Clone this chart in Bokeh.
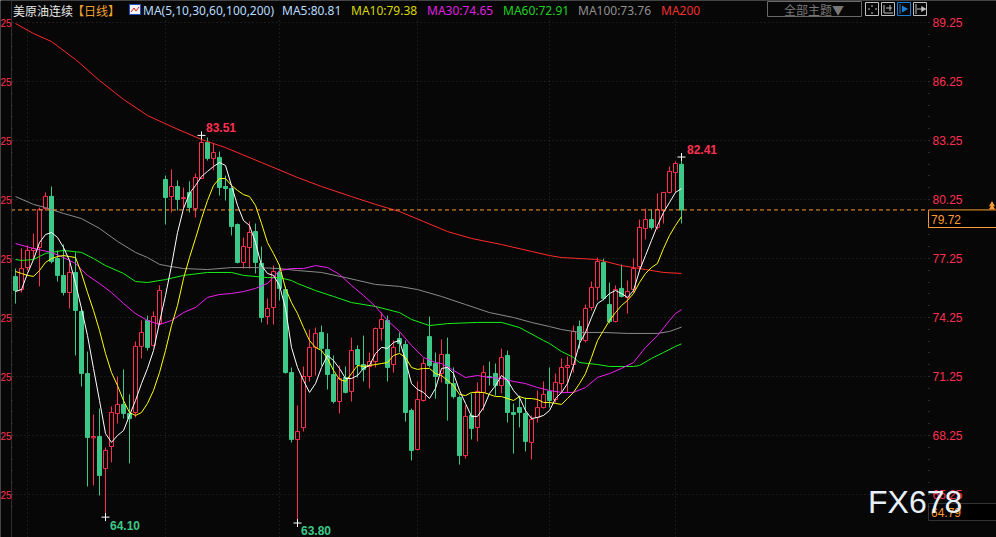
from bokeh.plotting import figure
from bokeh.models import Range1d, LinearAxis, FixedTicker, Label, Grid, PrintfTickFormatter
from bokeh.embed import file_html
from bokeh.resources import INLINE

# ---------- data (prices) ----------
opens = [76.33,75.67,76.79,77.66,77.81,79.79,80.41,77.25,76.39,75.52,
 76.54,74.56,71.40,68.13,68.20,66.57,67.69,69.37,69.83,69.37,
 69.42,72.78,74.10,72.83,73.95,81.27,80.40,80.91,80.30,80.61,
 79.79,81.32,83.15,82.34,82.39,80.91,80.81,78.98,77.05,77.81,
 78.62,77.00,74.30,74.76,76.54,75.67,71.45,68.05,68.65,71.25,
 72.73,73.49,72.62,71.35,69.98,71.20,70.49,72.62,71.86,71.76,
 72.01,73.69,74.10,71.86,73.18,72.88,69.52,67.54,70.03,73.28,
 71.91,71.40,72.37,70.89,70.18,67.23,69.27,68.66,70.44,71.25,
 71.40,70.79,72.32,69.42,69.67,69.37,67.90,69.17,69.67,70.49,
 70.08,70.89,71.71,71.86,73.79,73.08,74.76,75.78,77.05,74.91,
 74.05,75.73,75.27,75.67,76.84,78.78,79.23,78.83,79.69,80.61,
 81.62,82.04]
closes = [75.62,76.74,77.66,77.76,79.74,80.41,77.10,76.39,75.52,76.54,
 74.61,71.40,68.15,68.20,66.22,67.49,69.42,69.83,69.37,69.11,
 72.78,73.49,72.73,74.30,75.62,80.35,80.91,80.25,80.35,79.84,
 81.37,83.15,82.34,82.64,80.86,80.81,78.88,77.05,77.86,78.57,
 77.05,74.25,74.71,76.59,75.73,71.45,68.05,68.45,71.25,72.73,
 73.44,72.68,71.35,69.98,71.15,70.44,72.57,71.86,71.61,72.01,
 73.69,74.15,71.71,72.73,72.93,69.42,67.49,70.08,71.91,71.81,
 71.25,72.37,70.89,70.23,67.23,69.22,68.61,70.49,71.45,71.20,
 70.79,72.22,69.42,69.32,69.42,67.95,69.06,69.67,70.34,70.03,
 70.95,71.71,71.81,73.54,73.13,74.71,75.78,77.10,75.22,74.05,
 75.67,75.32,75.57,76.74,78.83,79.23,78.83,79.74,80.61,81.68,
 82.08,79.72]
highs = [76.74,77.76,77.91,78.52,79.84,80.61,80.91,77.66,77.96,77.05,
 77.56,74.76,72.52,69.32,69.62,67.64,69.73,71.25,71.61,70.34,
 73.03,74.10,74.35,74.56,75.88,81.47,81.78,81.22,80.86,81.17,
 81.57,83.51,83.40,83.10,82.69,81.47,80.86,79.03,78.32,79.13,
 79.03,77.86,75.22,76.89,76.94,75.83,71.71,69.78,71.76,73.64,
 73.74,73.84,73.44,72.32,71.81,71.76,73.23,72.83,73.33,72.47,
 73.74,74.51,74.35,73.08,73.49,73.08,69.62,71.00,72.17,74.30,
 72.47,73.13,73.23,71.71,70.28,69.78,70.39,70.95,71.81,72.01,
 71.91,72.67,72.57,69.88,70.28,70.18,69.27,70.54,71.00,71.71,
 71.40,72.17,72.27,73.84,74.10,74.91,76.08,77.30,77.25,76.03,
 75.88,76.94,76.13,77.25,79.23,79.79,79.74,80.56,80.61,81.93,
 82.18,82.41]
lows = [74.96,75.52,76.64,77.25,75.83,79.69,77.00,76.08,75.37,74.71,
 72.32,70.74,65.66,65.71,65.20,64.10,66.88,68.86,69.11,66.83,
 69.17,72.17,72.57,72.78,73.84,78.98,79.59,79.69,79.79,79.59,
 79.33,81.32,82.23,81.73,80.45,80.20,78.42,77.00,76.74,76.74,
 76.49,74.00,73.89,73.89,75.12,71.40,67.90,63.80,68.45,71.00,
 71.30,71.81,70.59,69.88,69.37,70.39,69.98,71.20,71.00,70.64,
 71.71,73.08,71.00,71.45,72.47,68.96,66.98,67.49,69.98,71.71,
 70.13,70.95,69.01,70.13,66.77,67.08,68.05,67.95,69.52,70.79,
 70.28,70.39,68.91,67.33,68.66,67.44,67.03,68.91,69.62,69.67,
 69.93,70.39,70.44,71.45,72.67,72.98,74.61,75.12,75.12,73.95,
 74.00,75.27,74.45,75.52,76.59,78.22,78.72,78.72,79.03,80.56,
 80.61,79.03]

ma5 = [75.57,75.67,76.49,77.20,78.06,78.47,78.57,78.32,77.81,77.15,
 75.98,74.71,73.33,71.66,70.03,68.35,67.90,68.25,68.50,69.27,
 70.03,70.89,71.66,72.57,74.00,75.37,76.89,78.57,79.79,80.56,
 80.96,81.42,81.68,81.93,82.13,81.98,80.96,79.95,79.18,78.93,
 78.06,76.89,76.49,76.39,75.88,74.71,72.73,71.71,71.05,70.44,
 70.89,71.71,72.32,72.06,71.66,71.15,71.15,71.30,71.66,71.81,
 72.42,72.73,72.68,72.98,73.08,72.06,70.89,70.59,70.44,70.13,
 70.64,71.66,71.71,71.40,70.54,69.88,69.22,69.22,69.67,70.39,
 70.79,71.30,71.05,70.54,70.18,69.52,69.11,69.17,69.27,69.52,
 70.13,70.44,70.89,71.81,72.93,73.49,74.25,74.96,75.17,75.47,
 75.62,75.47,75.27,75.62,76.64,77.40,78.17,78.93,79.59,80.10,
 80.61,80.81]
ma10 = [76.59,76.49,76.39,76.34,76.64,77.05,77.25,77.35,77.40,77.35,
 77.30,76.49,75.52,74.61,73.59,72.42,71.45,70.79,70.03,69.42,
 69.27,69.42,69.88,70.54,71.45,72.57,73.84,74.86,76.23,77.30,
 78.27,79.28,80.20,80.96,81.32,81.32,80.96,80.71,80.50,80.40,
 79.95,79.03,78.06,77.50,76.89,75.73,75.01,74.45,73.74,73.08,
 72.73,72.57,72.17,71.56,71.10,71.00,71.40,71.81,71.76,71.81,
 71.86,71.91,71.96,72.32,72.42,72.22,71.71,71.61,71.66,71.66,
 71.40,71.30,71.05,70.79,70.34,70.28,70.44,70.44,70.44,70.34,
 70.23,70.23,70.13,70.03,70.23,70.13,70.13,70.08,69.93,69.93,
 69.88,69.83,70.13,70.44,70.89,71.40,72.22,73.08,73.59,74.10,
 74.50,74.86,75.12,75.47,76.03,76.49,76.79,77.00,77.76,78.42,
 78.93,79.38]
ma30_idx = [0,3,6,8,10,12,14,16,18,20,22,24,26,28,30,32,34,36,38,40,42,44,46,48,50,52,54,56,58,60,62,64,66,68,70,71,73,75,77,79,81,83,85,87,89,91,93,95,97,99,101,103,105,107,109,110,111]
ma30 = [78.01,77.76,77.56,77.30,77.00,76.39,75.98,75.52,74.96,74.45,74.10,73.89,74.10,74.50,74.76,75.27,75.42,75.47,75.57,75.73,75.98,76.64,76.74,76.74,76.89,76.79,76.44,75.88,75.37,74.81,74.10,73.54,72.83,72.22,71.96,71.91,71.56,71.20,71.30,71.20,71.15,71.00,70.89,70.69,70.54,70.44,70.44,70.69,71.20,71.40,71.66,71.96,72.73,73.33,74.10,74.45,74.65]
ma60_idx = [0,1,3,5,8,11,13,15,18,20,22,25,28,32,36,38,42,44,46,47,50,53,56,60,64,66,69,72,77,81,84,88,89,91,93,94,97,99,103,104,106,108,110,111]
ma60 = [77.20,77.15,77.20,77.51,77.66,77.56,77.25,76.89,76.49,76.08,76.03,76.18,76.39,76.54,76.54,76.39,76.28,76.28,76.13,75.98,75.62,75.32,75.01,74.81,74.50,74.15,73.84,73.94,74.00,74.00,73.74,73.08,72.93,72.52,72.22,71.96,71.86,71.76,71.76,71.81,72.17,72.47,72.78,72.91]
ma100_idx = [0,3,5,8,11,14,17,20,22,24,25,28,32,36,40,44,47,51,55,60,64,67,71,75,79,83,86,89,91,94,98,102,107,109,111]
ma100 = [80.40,80.00,79.84,79.54,79.28,78.78,78.12,77.56,77.30,76.95,76.89,76.74,76.69,76.79,76.79,76.74,76.64,76.54,76.28,75.93,75.83,75.67,75.32,74.91,74.50,74.25,74.00,73.79,73.64,73.49,73.49,73.44,73.44,73.54,73.76]
ma200_idx = [0,3,6,10,14,18,22,26,31,35,41,47,51,56,60,64,68,72,76,81,86,89,91,97,101,105,108,111]
ma200 = [89.20,88.69,88.28,87.37,86.30,85.34,84.52,83.96,83.30,82.89,82.13,81.37,80.91,80.40,80.00,79.64,79.13,78.62,78.27,77.96,77.61,77.40,77.30,77.20,76.89,76.69,76.54,76.49]

price_ticks = [89.25,86.25,83.25,80.25,77.25,74.25,71.25,68.25,65.25]
minor_ticks = [89.25-0.6*i for i in range(42)]
month_starts = [2,25,44,67,89,110]
extreme_idx = [31,15,47,111]
extreme_val = [83.51,64.10,63.80,82.41]
last_price = 79.72
low_price_box = "64.79"

BG = "#070707"; RED = "#ff3050"; GREEN = "#3cc888"; ORANGE = "#ff9c30"
W, H = 996, 537
X0, X1 = -15.0/6, (W-15.0)/6
Y0, Y1 = 89.25-515/19.667, 89.25+22/19.667
def px(x): return X0 + (x-0.5)/W*(X1-X0)
def py(y): return Y1 - (y-0.5)/H*(Y1-Y0)

p = figure(width=W, height=H, output_backend="svg", toolbar_location=None,
           x_range=Range1d(X0, X1), y_range=Range1d(Y0, Y1),
           background_fill_color=BG, border_fill_color=BG, outline_line_color=None,
           min_border=0, min_border_left=0, min_border_right=0, min_border_top=0, min_border_bottom=0,
           x_axis_type=None, y_axis_type=None)
p.grid.visible = False

# grids
gy = Grid(dimension=1, ticker=FixedTicker(ticks=price_ticks), grid_line_color="#303030", grid_line_dash="1 3", grid_line_width=1)
gx = Grid(dimension=0, ticker=FixedTicker(ticks=month_starts), grid_line_color="#303030", grid_line_dash="1 3", grid_line_width=1)
p.add_layout(gy); p.add_layout(gx)
p.quad(left=[px(928), px(-5), px(-5)], right=[px(1000), px(11), px(1000)],
       top=[py(17), py(17), py(-5)], bottom=[py(540), py(540), py(17)],
       fill_color=BG, line_color=None)

# candles
idx = list(range(len(opens)))
up = [i for i in idx if closes[i] >= opens[i]]
dn = [i for i in idx if closes[i] < opens[i]]
p.segment([i for i in up], [highs[i] for i in up], [i for i in up], [lows[i] for i in up], line_color=RED, line_width=1)
p.segment([i for i in dn], [highs[i] for i in dn], [i for i in dn], [lows[i] for i in dn], line_color=GREEN, line_width=1)
p.vbar(x=up, width=4/6, top=[closes[i] for i in up], bottom=[opens[i] for i in up], fill_color=BG, line_color=RED, line_width=1)
p.vbar(x=dn, width=4/6, top=[opens[i] for i in dn], bottom=[closes[i] for i in dn], fill_color=GREEN, line_color=GREEN, line_width=1)

# moving averages
p.line(ma200_idx, ma200, line_color="#ff2a2a", line_width=1)
p.line(ma100_idx, ma100, line_color="#8a8a8a", line_width=1)
p.line(ma60_idx, ma60, line_color="#18f018", line_width=1)
p.line(ma30_idx, ma30, line_color="#f020f0", line_width=1)
p.line(idx, ma10, line_color="#ffff00", line_width=1)
p.line(idx, ma5, line_color="#ffffff", line_width=1)

# last price line and box
p.segment([px(11)], [last_price], [px(928)], [last_price], line_color=ORANGE, line_dash="4 3", line_width=1)
p.quad(left=[px(928.5)], right=[px(1002)], top=[last_price], bottom=[py(227.5)], fill_color="#000000", line_color=ORANGE, line_width=1)
p.quad(left=[px(928.5)], right=[px(1002)], top=[py(503.5)], bottom=[py(520.5)], fill_color="#000000", line_color="#333333", line_width=1)
p.scatter([px(992), px(992)], [py(204.5), py(207.5)], marker="triangle", size=6, fill_color=ORANGE, line_color=None)

# extreme markers
p.scatter(extreme_idx, extreme_val, marker="cross", size=8, line_color="#ffffff", line_width=1)

# axes placed inside the plot
ax_r = LinearAxis(ticker=FixedTicker(ticks=price_ticks, minor_ticks=minor_ticks), fixed_location=px(928.5),
                  formatter=PrintfTickFormatter(format="%.2f"), axis_line_color=None,
                  major_tick_line_color=None, major_tick_in=0, major_tick_out=0,
                  minor_tick_line_color="#555555", minor_tick_out=1, minor_tick_in=0,
                  major_label_text_color=RED, major_label_text_font="Liberation Sans", major_label_text_font_size="12px",
                  major_label_standoff=3)
p.add_layout(ax_r, "right")
ax_l = LinearAxis(ticker=FixedTicker(ticks=price_ticks, minor_ticks=minor_ticks), fixed_location=px(11.5),
                  major_label_overrides={t: "25" for t in price_ticks}, axis_line_color="#303030",
                  major_tick_line_color=None, major_tick_in=0, major_tick_out=0,
                  minor_tick_line_color="#444444", minor_tick_out=0, minor_tick_in=1,
                  major_label_text_color=RED, major_label_text_font="Liberation Sans", major_label_text_font_size="10px",
                  major_label_standoff=0)
p.add_layout(ax_l, "left")

def label(x, y, text, color, font="Noto Sans", size="12px", style="normal", level="annotation"):
    p.add_layout(Label(x=px(x), y=py(y), text=text, text_color=color, text_font=font, text_font_size=size,
                       text_font_style=style, text_baseline="middle", level=level))

CJK = "Noto Sans CJK SC"
label(13, 10, "美原油连续", "#e8e8e8", CJK)
label(72, 10, "【日线】", "#f0a030", CJK)
label(143, 10, "MA(5,10,30,60,100,200)", "#b8dcff")
label(282, 10, "MA5:80.81", "#b8dcff")
label(351, 10, "MA10:79.38", "#d8d800")
label(427, 10, "MA30:74.65", "#e020e0")
label(503, 10, "MA60:72.91", "#22d022")
label(578, 10, "MA100:73.76", "#909090")
label(661, 10, "MA200", "#f03030")

label(206, 127.5, "83.51", RED, "Liberation Sans", "12px", "bold")
label(687, 149, "82.41", RED, "Liberation Sans", "12px", "bold")
label(110, 525, "64.10", GREEN, "Liberation Sans", "12px", "bold")
label(301, 530, "63.80", GREEN, "Liberation Sans", "12px", "bold")

label(931, 219, "79.72", ORANGE, "Liberation Sans", "12px")
label(931, 512, low_price_box, ORANGE, "Liberation Sans", "12px")
label(868, 502, "FX678", "#e8f0fa", "Liberation Sans", "32px", level="overlay")

# top-right controls
p.quad(left=[px(767.5)], right=[px(861.5)], top=[py(1.5)], bottom=[py(16.5)], fill_color=None, line_color="#6a6a6a")
label(784, 9.5, "全部主题▼", "#777777", CJK)
lefts = [865.5, 881.5, 897.5, 913.5]
cols = ["#c0c0c0", "#c0c0c0", "#1a80d8", "#c0c0c0"]
p.quad(left=[px(v) for v in lefts], right=[px(v+13) for v in lefts], top=[py(2.5)]*4, bottom=[py(15.5)]*4,
       fill_color=None, line_color=cols)
p.segment([px(868), px(875), px(872), px(872)], [py(9)]*2+[py(5), py(12)], [px(870), px(877), px(872), px(872)], [py(9)]*2+[py(7), py(14)], line_color="#c0c0c0")
p.segment([px(884), px(884), px(890), px(886)], [py(5), py(13), py(5), py(8)], [px(884), px(893), px(890), px(892)], [py(13), py(13), py(11), py(8)], line_color="#c0c0c0")
p.segment([px(900)], [py(4)], [px(900)], [py(14)], line_color="#1a80d8")
p.scatter([px(904)], [py(9)], marker="triangle", size=7, angle=-1.5708, fill_color="#1a80d8", line_color=None)
p.segment([px(916), px(917)], [py(4), py(9)], [px(916), px(924)], [py(14), py(9)], line_color="#c0c0c0")
p.scatter([px(923)], [py(9)], marker="triangle", size=6, angle=-1.5708, fill_color="#c0c0c0", line_color=None)

# small legend icon
p.quad(left=[px(129.5)], right=[px(140.5)], top=[py(4.5)], bottom=[py(14.5)], fill_color="#f4f4f4", line_color="#2050c0")
p.line([px(131), px(134), px(136), px(139)], [py(12), py(8), py(11), py(7)], line_color="#e02020")

open("out.html", "w").write(file_html(p, INLINE))
